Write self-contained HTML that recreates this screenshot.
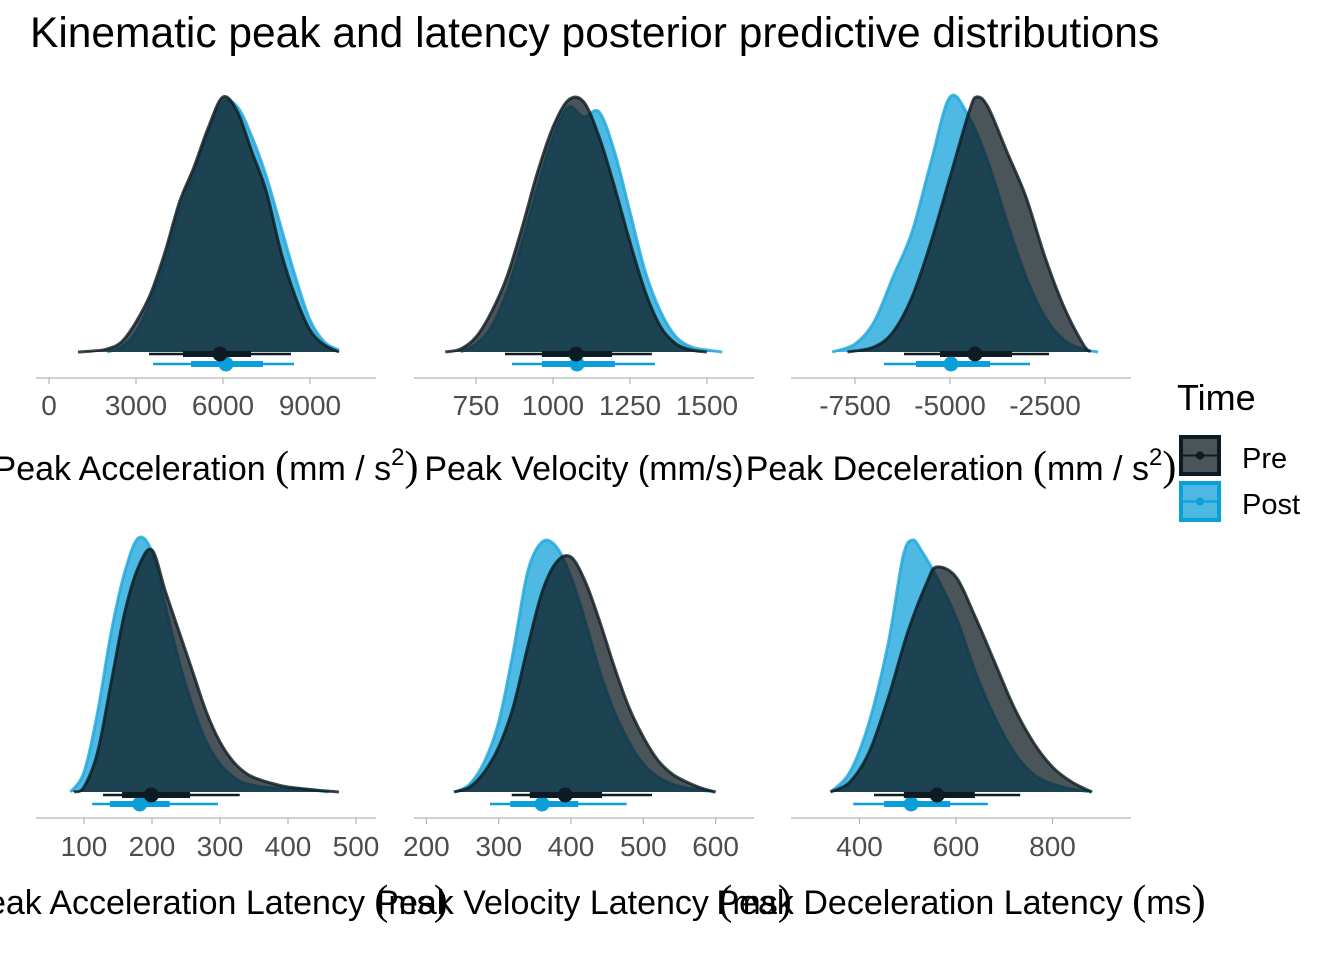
<!DOCTYPE html>
<html><head><meta charset="utf-8"><style>
body{margin:0;background:#fff;}
svg{display:block;font-family:"Liberation Sans",sans-serif;}
</style></head><body>
<svg id="c" width="1344" height="960">
<text x="30" y="47" font-size="42.5" fill="#000">Kinematic peak and latency posterior predictive distributions</text>
</svg>
<script>
// ---- data ----
const panelTitles = ["Peak Acceleration","Peak Velocity (mm/s)","Peak Deceleration","Peak Acceleration Latency","Peak Velocity Latency","Peak Deceleration Latency"];
const panelUnits = ["mm / s","","mm / s","ms","ms","ms"];
const ticks1 = [0,3000,6000,9000];
const ticks2 = [750,1000,1250,1500];
const ticks3 = [-7500,-5000,-2500];
const ticks4 = [100,200,300,400,500];
const ticks5 = [200,300,400,500,600];
const ticks6 = [400,600,800];
const pre1x = [1000,1500,2000,2500,3000,3500,4000,4500,5000,5500,6000,6500,7000,7500,8000,8500,9000,9500,10000];
const pre1d = [0,1,3,10,30,58,100,150,185,225,255,240,200,160,100,55,22,7,0];
const post1x = [2000,2500,3000,3500,4000,4500,5000,5500,6000,6500,7000,7500,8000,8500,9000,9500,10000];
const post1d = [0,5,20,50,90,140,180,220,250,245,215,175,125,75,32,10,2];
const pre2x = [650,700,750,800,850,900,950,1000,1050,1100,1150,1200,1250,1300,1350,1400,1450,1500];
const pre2d = [0,3,15,40,75,125,180,225,252,250,215,165,110,60,25,8,2,0];
const post2x = [700,750,800,850,900,950,1000,1050,1100,1150,1200,1250,1300,1350,1400,1450,1500,1550];
const post2d = [0,8,25,60,110,165,215,245,235,240,200,140,80,40,15,5,2,0];
const pre3x = [-7700,-7000,-6500,-6000,-5500,-5000,-4500,-4300,-4000,-3500,-3000,-2500,-2000,-1500,-1300];
const pre3d = [0,5,20,55,110,175,240,255,245,200,155,95,45,8,0];
const post3x = [-8100,-7500,-7000,-6500,-6000,-5500,-5000,-4500,-4000,-3500,-3000,-2500,-2000,-1500,-1100];
const post3d = [0,8,30,75,120,190,255,235,190,130,75,35,12,3,0];
const pre4x = [85,100,120,140,160,180,200,220,240,260,280,300,320,340,360,380,400,440,475];
const pre4d = [0,5,40,110,180,225,242,200,160,120,80,50,30,18,12,8,5,2,0];
const post4x = [80,100,120,140,160,180,200,220,240,260,280,300,320,340,380,420,460];
const post4d = [0,20,80,160,220,254,240,185,130,85,50,28,15,8,4,3,0];
const pre5x = [238,260,280,300,320,340,360,380,400,420,440,460,480,500,520,540,560,580,600];
const pre5d = [0,5,20,45,85,145,200,230,235,210,170,125,85,55,32,18,10,4,0];
const post5x = [240,260,280,300,320,340,360,380,400,420,440,460,480,500,520,540,560,600];
const post5d = [0,8,30,70,140,220,250,245,215,170,120,80,50,28,15,8,4,0];
const pre6x = [340,380,420,460,500,540,560,600,640,680,720,760,800,840,882];
const pre6d = [0,10,40,95,160,210,225,215,175,130,85,50,25,10,0];
const post6x = [340,380,420,460,490,510,530,560,600,640,680,720,760,800,840,880];
const post6d = [0,20,70,150,235,252,240,215,175,120,75,40,18,8,3,0];
// intervals: [thinLo, thinHi, thickLo, thickHi, median]
const preInt = [[3448,8345,4621,6966,5897],[844,1321,964,1192,1075],[-6210,-2395,-5263,-3368,-4342],[128,329,156,256,199],[318,512,343,443,392],[430,733,492,639,561]];
const postInt = [[3586,8448,4897,7379,6103],[867,1331,964,1201,1078],[-6737,-2895,-5895,-3947,-4974],[112,297,138,226,182],[288,477,316,410,360],[387,666,451,588,507]];

// ---- layout / scales ----
const panels = [
 {x0:36,x1:376,ref:6000,refPx:223,k:0.029,ticks:ticks1,pre:[pre1x,pre1d],post:[post1x,post1d],row:0},
 {x0:414,x1:754,ref:1000,refPx:553,k:0.308,ticks:ticks2,pre:[pre2x,pre2d],post:[post2x,post2d],row:0},
 {x0:791,x1:1131,ref:-5000,refPx:950,k:0.038,ticks:ticks3,pre:[pre3x,pre3d],post:[post3x,post3d],row:0},
 {x0:36,x1:376,ref:200,refPx:152,k:0.68,ticks:ticks4,pre:[pre4x,pre4d],post:[post4x,post4d],row:1},
 {x0:414,x1:754,ref:400,refPx:571,k:0.723,ticks:ticks5,pre:[pre5x,pre5d],post:[post5x,post5d],row:1},
 {x0:791,x1:1131,ref:600,refPx:956,k:0.4825,ticks:ticks6,pre:[pre6x,pre6d],post:[post6x,post6d],row:1}
];
const rows = [{base:352,axis:378,tickY:415,titleY:480,preY:354,postY:364},{base:792,axis:818,tickY:856,titleY:914,preY:795,postY:804}];
const NS="http://www.w3.org/2000/svg";
const svg=document.getElementById('c');
function mk(tag,attrs,parent){const e=document.createElementNS(NS,tag);for(const k in attrs)e.setAttribute(k,attrs[k]);(parent||svg).appendChild(e);return e;}
function smooth(pts){let d=`M${pts[0][0]},${pts[0][1]}`;for(let i=0;i<pts.length-1;i++){const p0=pts[Math.max(0,i-1)],p1=pts[i],p2=pts[i+1],p3=pts[Math.min(pts.length-1,i+2)];d+=` C${p1[0]+(p2[0]-p0[0])/6},${p1[1]+(p2[1]-p0[1])/6} ${p2[0]-(p3[0]-p1[0])/6},${p2[1]-(p3[1]-p1[1])/6} ${p2[0]},${p2[1]}`;}return d;}

panels.forEach((p,i)=>{
  const r=rows[p.row];
  const sx=v=>p.refPx+(v-p.ref)*p.k;
  const sy=d=>r.base-d;
  const g=mk('g',{});
  
  
  const ax=mk('line',{x1:p.x0,x2:p.x1,y1:r.axis,y2:r.axis,stroke:'#b3b3b3','stroke-width':1.2},g);
  
  
  p.ticks.forEach(t=>{
    const tx=sx(t);
    const tl=mk('line',{x1:tx,x2:tx,y1:r.axis,y2:r.axis+6,stroke:'#b3b3b3','stroke-width':1.2},g);
    
    
    const tt=mk('text',{x:tx,y:r.tickY,'font-size':28,fill:'#4d4d4d','text-anchor':'middle'},g);
    tt.textContent=t;
    
    
  });
  [['post',p.post,'rgba(10,159,216,0.72)','#1ea6dc'],['pre',p.pre,'rgba(13,27,34,0.75)','#0d1b22']].forEach(([nm,ser,fill,stroke])=>{
    const pts=ser[0].map((x,j)=>[sx(x),sy(ser[1][j])]);
    const line=smooth(pts);
    const path=mk('path',{d:line+` L${pts[pts.length-1][0]},${r.base} L${pts[0][0]},${r.base} Z`,fill:fill,stroke:'none'},g);
    
    
    const ol=mk('path',{d:line,fill:'none',stroke:stroke,'stroke-width':3,'stroke-opacity':0.8},g);
    
    
  });
  [['post',postInt[i],r.postY,'#0a9fd8'],['pre',preInt[i],r.preY,'#0d1b22']].forEach(([nm,iv,y,col])=>{
    const ig=mk('g',{},g);
    
    
    mk('line',{x1:sx(iv[0]),x2:sx(iv[1]),y1:y,y2:y,stroke:col,'stroke-width':2.5},ig);
    mk('line',{x1:sx(iv[2]),x2:sx(iv[3]),y1:y,y2:y,stroke:col,'stroke-width':6},ig);
    mk('circle',{cx:sx(iv[4]),cy:y,r:7.5,fill:col},ig);
  });
});
// axis titles
panels.forEach((p,i)=>{
  const r=rows[p.row];
  const t=mk('text',{x:(p.x0+p.x1)/2,y:r.titleY,'font-size':34,fill:'#000','text-anchor':'middle'});
  
  
  if(!panelUnits[i]){t.textContent=panelTitles[i];return;}
  const a=mk('tspan',{},t);a.textContent=panelTitles[i]+' ';
  const b=mk('tspan',{'font-size':42,'font-family':'Liberation Serif'},t);b.textContent='(';
  const c=mk('tspan',{},t);c.textContent=panelUnits[i];
  if(i===0||i===2){const s=mk('tspan',{'font-size':24,dy:-15},t);s.textContent='2';const z=mk('tspan',{'font-size':42,dy:15,'font-family':'Liberation Serif'},t);z.textContent=')';}
  else{const z=mk('tspan',{'font-size':42,'font-family':'Liberation Serif'},t);z.textContent=')';}
});
// legend
const lg=mk('g',{});


const lt=mk('text',{x:1177,y:410,'font-size':36,fill:'#000'},lg);
lt.textContent='Time';


[['Pre',437,'#4a5459','#0d1b22',468],['Post',483,'#4db9e3','#0a9fd8',514]].forEach(([lab,y,fill,st,ty])=>{
  const e=mk('g',{},lg);
  
  
  mk('rect',{x:1181,y:y,width:38,height:37,fill:fill,stroke:st,'stroke-width':4},e);
  mk('line',{x1:1181,x2:1219,y1:y+18.5,y2:y+18.5,stroke:st,'stroke-width':2},e);
  mk('circle',{cx:1200,cy:y+18.5,r:4,fill:st},e);
  const tx=mk('text',{x:1242,y:ty,'font-size':29,fill:'#000'},e);
  tx.textContent=lab;
});
</script>
</body></html>
